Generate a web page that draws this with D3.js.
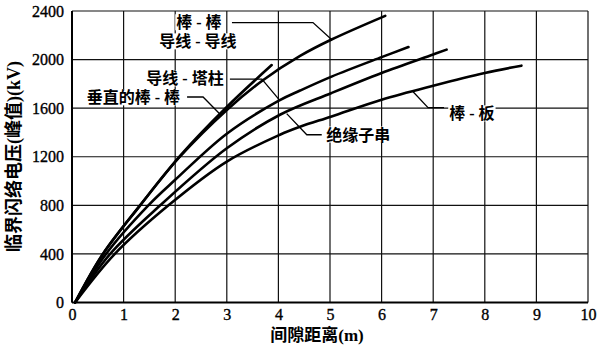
<!DOCTYPE html>
<html>
<head>
<meta charset="utf-8">
<script src="https://cdn.jsdelivr.net/npm/d3@7/dist/d3.min.js"></script>
<style>
  html, body { margin: 0; padding: 0; background: #fff; }
  svg { display: block; }
</style>
</head>
<body>
<svg id="chart" width="600" height="346"></svg>
<script>
// Axis ticks
const gapTicks = [0, 1, 2, 3, 4, 5, 6, 7, 8, 9, 10];
const voltageTicks = [0, 400, 800, 1200, 1600, 2000, 2400];

// Critical flashover voltage (peak, kV) against gap distance (m), one pair of arrays per gap type
const rodRodGap = [0.06, 0.6, 1.32, 2.09, 3.0, 3.7, 4.42, 5.03, 6.07];
const rodRodKV = [0, 400, 800, 1200, 1585, 1830, 2030, 2165, 2360];

const verticalRodGap = [0.06, 0.6, 1.32, 2.09, 3.0, 3.87];
const verticalRodKV = [0, 400, 800, 1205, 1610, 1955];

const conductorConductorGap = [0.06, 0.66, 1.48, 2.0, 3.0, 4.0, 4.42, 5.03, 6.0, 6.52];
const conductorConductorKV = [0, 400, 800, 1010, 1390, 1660, 1745, 1860, 2020, 2103];

const conductorTowerGap = [0.06, 0.74, 1.71, 3.0, 4.03, 5.03, 6.0, 7.0, 7.26];
const conductorTowerKV = [0, 400, 800, 1270, 1546, 1725, 1890, 2042, 2082];

const rodPlaneGap = [0.06, 0.83, 1.87, 3.0, 4.03, 4.42, 5.03, 6.0, 7.0, 8.0, 8.71];
const rodPlaneKV = [0, 400, 800, 1160, 1381, 1447, 1532, 1670, 1785, 1890, 1950];

// Curve labels and their leader lines (label centre and leader vertices in data units)
const labelTexts = ["棒 - 棒", "导线 - 导线", "导线 - 塔柱", "垂直的棒 - 棒", "绝缘子串", "棒 - 板"];
const labelAt = [[2.46, 2305], [2.44, 2148], [2.19, 1843], [1.19, 1687], [5.55, 1381], [7.75, 1555]];
const leaders = [
  [[3.10, 2305], [4.67, 2305], [5.03, 2165]],
  [],
  [[3.06, 1839], [3.68, 1839], [4.03, 1662]],
  [[2.23, 1692], [2.54, 1692], [2.87, 1550]],
  [[4.84, 1381], [4.55, 1381], [4.16, 1555]],
  [[7.21, 1604], [6.90, 1604], [6.61, 1735]]
];

const series = [
  { gap: rodRodGap, kv: rodRodKV },
  { gap: verticalRodGap, kv: verticalRodKV },
  { gap: conductorConductorGap, kv: conductorConductorKV },
  { gap: conductorTowerGap, kv: conductorTowerKV },
  { gap: rodPlaneGap, kv: rodPlaneKV }
];

const svg = d3.select("#chart");
const x = d3.scaleLinear().domain([0, 10]).range([72, 588]);
const y = d3.scaleLinear().domain([0, 2400]).range([302.5, 11]);

const serif = "'Liberation Serif', 'Times New Roman', serif";
const cjk = "'Liberation Serif', 'Noto Sans CJK SC', sans-serif";

// Grid
const grid = svg.append("g").attr("stroke", "#111").attr("stroke-width", 1.2);
grid.selectAll("line.v").data(gapTicks).join("line")
  .attr("class", "v")
  .attr("x1", d => x(d)).attr("x2", d => x(d))
  .attr("y1", y(0)).attr("y2", y(2400));
grid.selectAll("line.h").data(voltageTicks).join("line")
  .attr("class", "h")
  .attr("x1", x(0)).attr("x2", x(10))
  .attr("y1", d => y(d)).attr("y2", d => y(d));

// Heavier left and bottom axis lines
svg.append("line").attr("x1", x(0)).attr("x2", x(0)).attr("y1", y(0)).attr("y2", y(2400))
  .attr("stroke", "#000").attr("stroke-width", 2);
svg.append("line").attr("x1", x(0)).attr("x2", x(10)).attr("y1", y(0)).attr("y2", y(0))
  .attr("stroke", "#000").attr("stroke-width", 2);

// Tick labels
const xAxis = svg.append("g").attr("transform", `translate(0,${y(0)})`)
  .call(d3.axisBottom(x).tickValues(gapTicks).tickSize(0).tickPadding(6).tickFormat(d3.format("d")));
xAxis.select(".domain").remove();
xAxis.selectAll("text").attr("font-family", serif).attr("font-size", 16).attr("fill", "#000")
  .attr("stroke", "#000").attr("stroke-width", 0.35);

const yAxis = svg.append("g").attr("transform", `translate(${x(0) - 8},0)`)
  .call(d3.axisLeft(y).tickValues(voltageTicks).tickSize(0).tickPadding(0).tickFormat(d3.format("d")));
yAxis.select(".domain").remove();
yAxis.selectAll("text").attr("font-family", serif).attr("font-size", 16).attr("fill", "#000")
  .attr("stroke", "#000").attr("stroke-width", 0.35);

// Axis titles
svg.append("text")
  .attr("x", 317).attr("y", 341)
  .attr("text-anchor", "middle")
  .attr("font-family", cjk).attr("font-size", 17).attr("font-weight", 700)
  .text("间隙距离(m)");
svg.append("text")
  .attr("transform", "translate(20,156.5) rotate(-90)")
  .attr("text-anchor", "middle")
  .attr("font-family", cjk).attr("font-size", 18).attr("font-weight", 700)
  .text("临界闪络电压(峰值)(kV)");

// Label backgrounds, then curves, leaders and labels
const bgLayer = svg.append("g");
const curveLayer = svg.append("g");
const textLayer = svg.append("g");

const line = d3.line().x(d => x(d[0])).y(d => y(d[1])).curve(d3.curveCatmullRom.alpha(0.5));
curveLayer.selectAll("path.curve").data(series).join("path")
  .attr("class", "curve")
  .attr("fill", "none").attr("stroke", "#000").attr("stroke-width", 2.6)
  .attr("stroke-linejoin", "round").attr("stroke-linecap", "round")
  .attr("d", s => line(s.gap.map((g, i) => [g, s.kv[i]])));

const leaderLine = d3.line().x(d => x(d[0])).y(d => y(d[1]));
curveLayer.selectAll("path.leader").data(leaders.filter(l => l.length)).join("path")
  .attr("class", "leader")
  .attr("fill", "none").attr("stroke", "#000").attr("stroke-width", 1.3)
  .attr("d", leaderLine);

labelTexts.forEach((t, i) => {
  const txt = textLayer.append("text")
    .attr("x", x(labelAt[i][0])).attr("y", y(labelAt[i][1]))
    .attr("dy", "0.36em")
    .attr("text-anchor", "middle")
    .attr("font-family", cjk).attr("font-size", 16).attr("font-weight", 700)
    .attr("fill", "#000")
    .text(t);
  const b = txt.node().getBBox();
  bgLayer.append("rect")
    .attr("x", b.x - 1).attr("y", b.y + 1)
    .attr("width", b.width + 2).attr("height", b.height - 2)
    .attr("fill", "#fff");
});
</script>
</body>
</html>
